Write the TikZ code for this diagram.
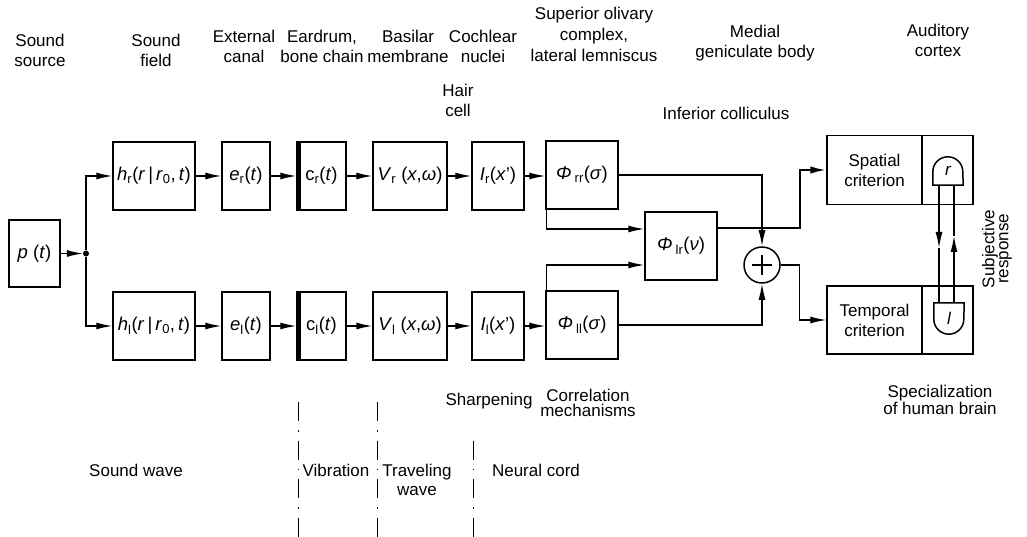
\documentclass[tikz,border=0pt]{standalone}
\usepackage{fontspec}
\setmainfont{Liberation Sans}
\usetikzlibrary{arrows.meta}
\newcommand\sbs[1]{\textsubscript{\upshape #1}}
\newcommand\itx[1]{\textit{#1}}
\begin{document}
\begin{tikzpicture}[x=1pt,y=-1pt,
  blk/.style={draw, line width=1.5pt, minimum height=68pt, inner sep=0pt, font=\fontsize{18.5}{20}\selectfont},
  lbl/.style={align=center, anchor=base, inner sep=0pt, font=\fontsize{17}{20}\selectfont},
  lbls/.style={lbl, font=\fontsize{17}{15}\selectfont},
  conn/.style={line width=1.3pt},
  arr/.style={conn, -{Latex[length=16pt,width=7pt]}},
  sep/.style={line width=1pt, dash pattern=on 19pt off 9pt on 1.5pt off 9pt},
  cup/.style={line width=1.5pt}
]
\useasboundingbox (0,0) rectangle (1027,537);
% blocks
\node[blk, minimum width=51pt, minimum height=67pt] (pt) at (34.5,253.5) {\itx{p} (\itx{t})};
\node[circle, fill, inner sep=0pt, minimum size=6pt] (dot) at (86,253.5) {};
\node[blk, minimum width=82pt] (hr) at (154,176) {\itx{h}\sbs{r}(\itx{r}\,|\,\itx{r}\sbs{0},\,\itx{t})};
\node[blk, minimum width=82pt] (hl) at (154,326) {\itx{h}\sbs{l}(\itx{r}\,|\,\itx{r}\sbs{0},\,\itx{t})};
\node[blk, minimum width=48pt] (er) at (246,176) {\itx{e}\sbs{r}(\itx{t})};
\node[blk, minimum width=48pt] (el) at (246,326) {\itx{e}\sbs{l}(\itx{t})};
\node[blk, minimum width=49pt] (cr) at (321.5,176) {c\sbs{r}(\itx{t})};
\node[blk, minimum width=49pt] (cl) at (321.5,326) {c\sbs{l}(\itx{t})};
\node[blk, minimum width=74pt] (vr) at (410,176) {\itx{V}\sbs{r} (\itx{x},\itx{ω})};
\node[blk, minimum width=74pt] (vl) at (410,326) {\itx{V}\sbs{l} (\itx{x},\itx{ω})};
\node[blk, minimum width=52pt] (ir) at (498,176) {\itx{I}\sbs{r}(\itx{x}')};
\node[blk, minimum width=52pt] (il) at (498,326) {\itx{I}\sbs{l}(\itx{x}')};
\node[blk, minimum width=72pt] (prr) at (582,175) {\itx{Φ}\,\sbs{rr}(\itx{σ})};
\node[blk, minimum width=72pt] (pll) at (582,325) {\itx{Φ}\,\sbs{ll}(\itx{σ})};
\node[blk, minimum width=72pt] (plr) at (681,246) {\itx{Φ}\,\sbs{lr}(\itx{ν})};
\node[circle, draw, line width=1.5pt, minimum size=36pt, inner sep=0pt] (circ) at (762,265) {};
\draw[line width=2.2pt] ([xshift=-10pt]circ.center) -- ([xshift=10pt]circ.center);
\draw[line width=2.2pt] ([yshift=-10pt]circ.center) -- ([yshift=10pt]circ.center);
\node[blk, minimum width=146pt, minimum height=69pt] (sp) at (900,170) {};
\node[blk, minimum width=146pt, minimum height=68pt] (tp) at (900,320) {};
\draw[line width=1.5pt] (922,135.5) -- (922,204.5);
\draw[line width=1.5pt] (922,286) -- (922,354);
\node[lbl, anchor=center] (spt) at (874.5,170) {Spatial\\criterion};
\node[lbl, anchor=center] (tpt) at (874.5,320) {Temporal\\criterion};
% thick left edges of c boxes
\draw[line width=5pt] ([xshift=2.5pt]cr.south west) -- ([xshift=2.5pt]cr.north west);
\draw[line width=5pt] ([xshift=2.5pt]cl.south west) -- ([xshift=2.5pt]cl.north west);
% r and l shapes
\node[minimum width=30pt, minimum height=28pt, inner sep=0pt, font=\fontsize{17}{20}\itshape] (rs) at (948,171) {r};
\node[minimum width=30pt, minimum height=31pt, inner sep=0pt, font=\fontsize{17}{20}\itshape] (ls) at (949,318.5) {l};
\draw[cup] (rs.south west) -- ([yshift=-15pt]rs.north west) arc[start angle=180, end angle=0, radius=15pt] -- (rs.south east) -- cycle;
\draw[cup] (ls.north west) -- ([yshift=15pt]ls.south west) arc[start angle=180, end angle=360, radius=15pt] -- (ls.north east) -- cycle;
\coordinate (m1) at (939,248);
\coordinate (m2) at (954,236);
\draw[arr] (rs.south -| m1) -- (m1);
\draw[conn] (m1) -- (ls.north -| m1);
\draw[arr] (ls.north -| m2) -- (m2);
\draw[conn] (m2) -- (rs.south -| m2);
% connectors
\draw[arr] (pt.east) -- (dot.west);
\draw[arr] (dot) |- (hr.west);
\draw[arr] (dot) |- (hl.west);
\draw[arr] (hr.east) -- (er.west);
\draw[arr] (hl.east) -- (el.west);
\draw[arr] (er.east) -- (cr.west);
\draw[arr] (el.east) -- (cl.west);
\draw[arr] (cr.east) -- (vr.west);
\draw[arr] (cl.east) -- (vl.west);
\draw[arr] (vr.east) -- (ir.west);
\draw[arr] (vl.east) -- (il.west);
\draw[arr] (ir.east) -- (ir.east -| prr.west);
\draw[arr] (il.east) -- (il.east -| pll.west);
\draw[arr] (prr.east) -| (circ.north);
\draw[arr] (pll.east) -| (circ.south);
\draw[arr] ([xshift=1pt]prr.south west) |- ([yshift=17pt]plr.west);
\draw[arr] ([xshift=1pt]pll.north west) |- ([yshift=-19pt]plr.west);
\draw[line width=2.2pt, -{Latex[length=16pt,width=7.5pt]}] ([yshift=18pt]plr.east) -- ++(82,0) |- (sp.west);
\draw[arr] (circ.east) -- ++(19,0) |- (tp.west);
% separators
\draw[sep] (298,402) -- (298,537);
\draw[sep] (377,402) -- (377,537);
\draw[sep] (473,440.5) -- (473,537);
% labels (anchor = baseline of last line)
\node[lbl] (l1) at (40,67) {Sound\\source};
\node[lbl] (l2) at (156,67) {Sound\\field};
\node[lbl] (l3) at (244,63) {External\\canal};
\node[lbl] (l4) at (322,63) {Eardrum,\\bone chain};
\node[lbl] (l5) at (408,63) {Basilar\\membrane};
\node[lbl] (l6) at (483,63) {Cochlear\\nuclei};
\node[lbl] (l7) at (458,117) {Hair\\cell};
\node[lbl, font=\fontsize{17}{21}\selectfont] (l8) at (594,62) {Superior olivary\\complex,\\lateral lemniscus};
\node[lbl] (l9) at (755,58) {Medial\\geniculate body};
\node[lbl] (l10) at (938,57) {Auditory\\cortex};
\node[lbl] (l11) at (726,120) {Inferior colliculus};
\node[lbl, rotate=90, anchor=center, font=\fontsize{17}{14}\selectfont] (l12) at (997,249) {Subjective\\response};
\node[lbl] (l13) at (489,405) {Sharpening};
\node[lbls] (l14) at (588,416) {Correlation\\mechanisms};
\node[lbls] (l15) at (940,414) {Specialization\\of human brain};
\node[lbl] (l16) at (136,476) {Sound wave};
\node[lbl] (l17) at (336,476) {Vibration};
\node[lbl, font=\fontsize{17}{19}\selectfont] (l18) at (417,495) {Traveling\\wave};
\node[lbl] (l19) at (536,476) {Neural cord};
\end{tikzpicture}
\end{document}
